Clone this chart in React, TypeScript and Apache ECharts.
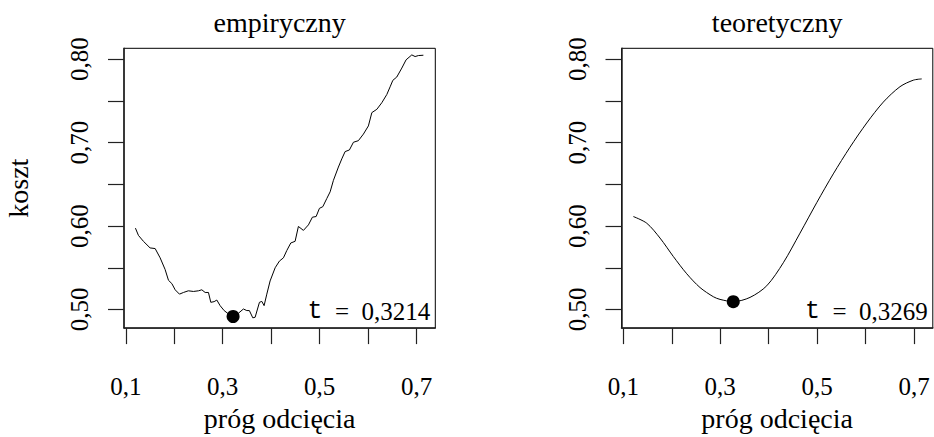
import React, { useEffect, useRef } from "react";
import * as echarts from "echarts";

const empX = [0.1198, 0.126, 0.1363, 0.150, 0.1605, 0.1708, 0.181, 0.188, 0.195, 0.2018, 0.2107, 0.219, 0.229, 0.2395, 0.2499, 0.2568, 0.2637, 0.2705, 0.2754, 0.2822, 0.2878, 0.2946, 0.3029, 0.3118, 0.3214, 0.3324, 0.3427, 0.3497, 0.355, 0.3621, 0.3669, 0.3758, 0.3807, 0.3854, 0.391, 0.3978, 0.4082, 0.417, 0.4253, 0.4322, 0.4405, 0.4494, 0.4562, 0.4666, 0.4769, 0.4851, 0.4928, 0.4996, 0.5066, 0.5149, 0.5217, 0.5285, 0.5388, 0.5458, 0.5526, 0.5615, 0.5698, 0.58, 0.5904, 0.6007, 0.6078, 0.6181, 0.6284, 0.6387, 0.6455, 0.6511, 0.6593, 0.6697, 0.6785, 0.6903, 0.6971, 0.7039, 0.7142];
const empY = [0.5975, 0.5888, 0.5817, 0.5738, 0.573, 0.5619, 0.548, 0.535, 0.531, 0.5236, 0.5184, 0.5204, 0.5224, 0.5216, 0.5224, 0.5236, 0.5204, 0.5204, 0.5086, 0.5094, 0.5113, 0.5046, 0.4987, 0.4947, 0.4916, 0.4955, 0.5006, 0.4987, 0.4987, 0.49, 0.4907, 0.5086, 0.5097, 0.5046, 0.5184, 0.5342, 0.55, 0.558, 0.5619, 0.5706, 0.5797, 0.5817, 0.5995, 0.5948, 0.6014, 0.6106, 0.6114, 0.6212, 0.6232, 0.6331, 0.641, 0.6548, 0.6707, 0.6805, 0.6892, 0.6912, 0.7004, 0.7023, 0.7102, 0.72, 0.7359, 0.7399, 0.7478, 0.7576, 0.7668, 0.7746, 0.7786, 0.7893, 0.7992, 0.8051, 0.8031, 0.8043, 0.8047];

const teoX = [0.1206, 0.1483, 0.1757, 0.2032, 0.2309, 0.2583, 0.2858, 0.2996, 0.327, 0.3615, 0.396, 0.4302, 0.4647, 0.4992, 0.5334, 0.5679, 0.6024, 0.6366, 0.6711, 0.6986, 0.7159];
const teoY = [0.6114, 0.6034, 0.5856, 0.5635, 0.5428, 0.5263, 0.5153, 0.5121, 0.5094, 0.5145, 0.5284, 0.556, 0.5915, 0.628, 0.6625, 0.6945, 0.7235, 0.7485, 0.767, 0.7748, 0.7763];

const empOpt = [0.3214, 0.4916];
const teoOpt = [0.3269, 0.5094];

const titles = ["empiryczny", "teoretyczny"];
const optLabels = ["0,3214", "0,3269"];
const xTickValues = [0.1, 0.2, 0.3, 0.4, 0.5, 0.6, 0.7];
const xLabelValues = [0.1, 0.3, 0.5, 0.7];
const yTickValues = [0.5, 0.55, 0.6, 0.65, 0.7, 0.75, 0.8];
const yLabelValues = [0.5, 0.6, 0.7, 0.8];

const SERIF = "Liberation Serif";
const MONO = "Liberation Mono";

const X_MIN = 0.0962;
const X_MAX = 0.7388;
const Y_MIN = 0.4777;
const Y_MAX = 0.813;

const GRID_TOP = 48.3;
const GRID_H = 282.7;
const GRID_W = 311.3;
const GRID_LEFTS = [124, 621.5];

function zip(xs: number[], ys: number[]) {
  return xs.map((x, i) => [x, ys[i]]);
}

export default function App() {
  const ref = useRef<HTMLDivElement>(null);
  useEffect(() => {
    if (!ref.current) return;
    const chart = echarts.init(ref.current, null, { renderer: "svg" });

    const grids = GRID_LEFTS.map((left) => ({
      left,
      top: GRID_TOP,
      width: GRID_W,
      height: GRID_H,
      show: true,
      borderColor: "#000",
      borderWidth: 1,
      backgroundColor: "transparent",
    }));

    const xAxes = [0, 1].map((i) => ({
      type: "value",
      gridIndex: i,
      min: X_MIN,
      max: X_MAX,
      splitLine: { show: false },
      axisLine: { show: true, onZero: false, lineStyle: { color: "#222", width: 1.5 } },
      axisTick: {
        show: true,
        inside: false,
        length: 16,
        customValues: xTickValues,
        lineStyle: { color: "#222", width: 1.2 },
      },
      axisLabel: {
        show: true,
        margin: 46,
        customValues: xLabelValues,
        fontFamily: SERIF,
        fontSize: 25,
        color: "#000",
        formatter: (v: number) => v.toFixed(1).replace(".", ","),
      },
      name: "próg odcięcia",
      nameLocation: "middle",
      nameGap: 74,
      nameTextStyle: { fontFamily: SERIF, fontSize: 28, color: "#000" },
    }));

    const yAxes = [0, 1].map((i) => ({
      type: "value",
      gridIndex: i,
      min: Y_MIN,
      max: Y_MAX,
      splitLine: { show: false },
      axisLine: { show: true, onZero: false, lineStyle: { color: "#222", width: 1.5 } },
      axisTick: {
        show: true,
        inside: false,
        length: 16,
        customValues: yTickValues,
        lineStyle: { color: "#222", width: 1.2 },
      },
      axisLabel: {
        show: true,
        rotate: 90,
        margin: 32,
        customValues: yLabelValues,
        fontFamily: SERIF,
        fontSize: 25,
        color: "#000",
        formatter: (v: number) => v.toFixed(2).replace(".", ","),
      },
      name: i === 0 ? "koszt" : "",
      nameLocation: "middle",
      nameGap: 92,
      nameTextStyle: { fontFamily: SERIF, fontSize: 28, color: "#000" },
    }));

    const graphic: any[] = [];
    GRID_LEFTS.forEach((left, i) => {
      graphic.push({
        type: "text",
        x: left + GRID_W / 2,
        y: 22,
        style: {
          text: titles[i],
          fontFamily: SERIF,
          fontSize: 28,
          fill: "#000",
          align: "center",
          verticalAlign: "middle",
        },
      });
      graphic.push({
        type: "text",
        x: left + GRID_W - 5,
        y: 311,
        style: {
          text: "{m|t}{s|\u2002=\u2002" + optLabels[i] + "}",
          fontFamily: SERIF,
          fontSize: 25,
          fill: "#000",
          align: "right",
          verticalAlign: "middle",
          rich: {
            m: { fontFamily: MONO, fontSize: 25, fill: "#000" },
            s: { fontFamily: SERIF, fontSize: 25, fill: "#000" },
          },
        },
      });
    });

    chart.setOption({
      animation: false,
      backgroundColor: "#fff",
      textStyle: { fontFamily: SERIF },
      grid: grids,
      xAxis: xAxes,
      yAxis: yAxes,
      graphic,
      series: [
        {
          type: "line",
          xAxisIndex: 0,
          yAxisIndex: 0,
          data: zip(empX, empY),
          showSymbol: false,
          symbol: "none",
          lineStyle: { color: "#000", width: 1 },
        },
        {
          type: "scatter",
          xAxisIndex: 0,
          yAxisIndex: 0,
          data: [empOpt],
          symbolSize: 13,
          itemStyle: { color: "#000", opacity: 1 },
        },
        {
          type: "line",
          xAxisIndex: 1,
          yAxisIndex: 1,
          data: zip(teoX, teoY),
          showSymbol: false,
          symbol: "none",
          smooth: 0.3,
          lineStyle: { color: "#000", width: 1 },
        },
        {
          type: "scatter",
          xAxisIndex: 1,
          yAxisIndex: 1,
          data: [teoOpt],
          symbolSize: 13,
          itemStyle: { color: "#000", opacity: 1 },
        },
      ],
    });
    return () => chart.dispose();
  }, []);

  return (
    <div
      ref={ref}
      style={{ position: "fixed", left: 0, top: 0, width: 934, height: 437, background: "#fff" }}
    />
  );
}
